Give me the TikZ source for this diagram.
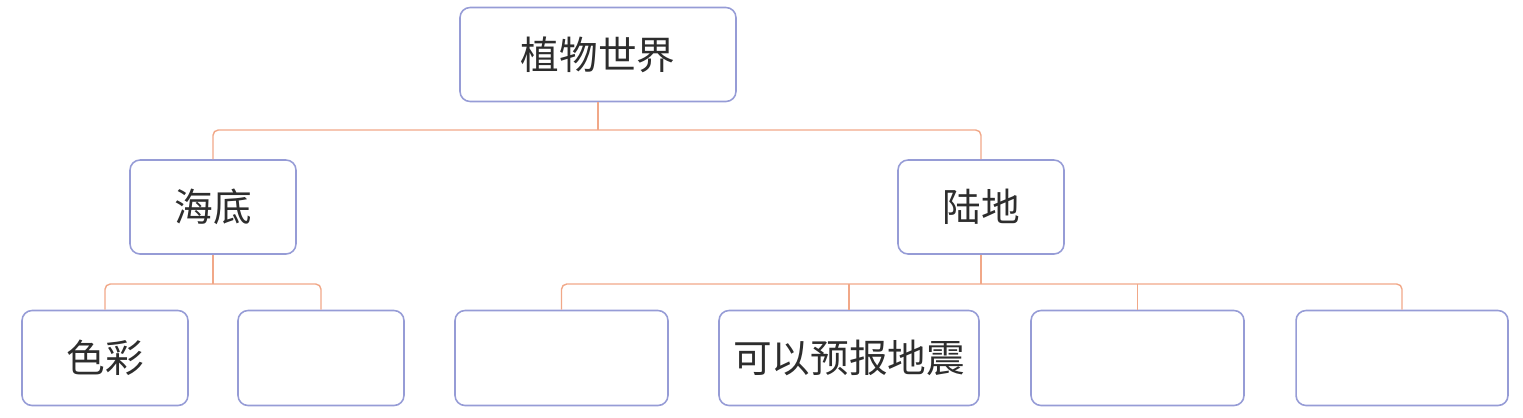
\documentclass[tikz,border=0pt]{standalone}
\usepackage{fontspec}
\newfontfamily\cjk{Noto Sans CJK SC}
\usepackage{tikz}
\usetikzlibrary{positioning}

\definecolor{boxline}{RGB}{150,156,214}
\definecolor{linkline}{RGB}{241,168,136}
\definecolor{txt}{RGB}{45,45,45}

\begin{document}
\begin{tikzpicture}[
    x=0.02cm, y=-0.02cm,
    box/.style={draw=boxline, line width=0.9pt, rounded corners=0.2cm, minimum height=1.88cm, align=center, inner sep=0pt, text=txt, font=\cjk\fontsize{22}{24}\selectfont},
    leaf/.style={box, minimum height=1.9cm},
    link/.style={draw=linkline, line width=0.8pt, rounded corners=3pt}
]
\useasboundingbox (0,0) rectangle (1523,417);

% Root
\node[box, minimum width=5.52cm] (root) at (598,54.5) {植物世界};

% Second row
\node[box, minimum width=3.32cm] (haidi) at (213,207) {海底};
\node[box, minimum width=3.32cm] (ludi) at (981,207) {陆地};

% Third row
\node[leaf, minimum width=3.32cm] (secai) at (105,358) {色彩};
\node[leaf, minimum width=3.32cm] (hd2) at (321,358) {};
\node[leaf, minimum width=4.26cm] (ld1) at (561.5,358) {};
\node[leaf, minimum width=5.2cm] (dizhen) at (849,358) {可以预报地震};
\node[leaf, minimum width=4.26cm] (ld3) at (1137.5,358) {};
\node[leaf, minimum width=4.24cm] (ld4) at (1402,358) {};

% Bars
\coordinate (bartop) at (598,130);
\coordinate (barhd) at (213,284);
\coordinate (barld) at (981,284);

% Links
\draw[link] (root.south) -- (bartop);
\draw[link] (haidi.north) |- (bartop) -| (ludi.north);
\draw[link] (haidi.south) -- (barhd);
\draw[link] (secai.north) |- (barhd) -| (hd2.north);
\draw[link] (ludi.south) -- (barld);
\draw[link] (ld1.north) |- (barld) -| (ld4.north);
\draw[link] (dizhen.north) -- (dizhen.north |- barld);
\draw[link] (ld3.north) -- (ld3.north |- barld);

\end{tikzpicture}
\end{document}
